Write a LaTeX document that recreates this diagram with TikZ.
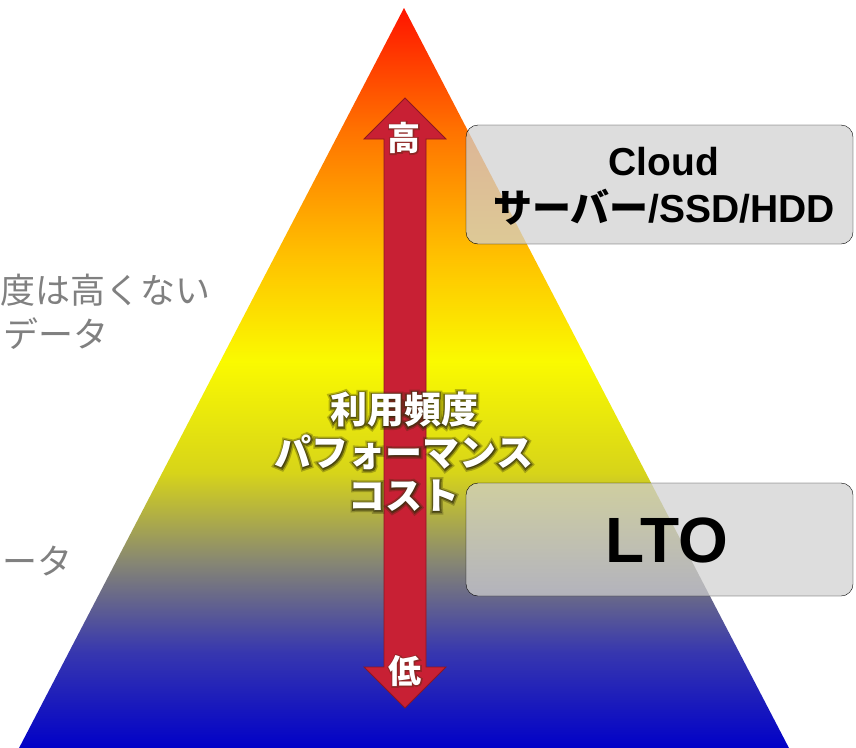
\documentclass[tikz,border=0pt]{standalone}
\usepackage{fontspec}
\newfontfamily\jpfont{Noto Sans CJK JP}
\newfontfamily\jpglow{Noto Sans CJK JP}[BoldFeatures={FakeBold=8}]
\newfontfamily\jpglowwide{Noto Sans CJK JP}[BoldFeatures={FakeBold=16}]
\newfontfamily\latinfont{Liberation Sans}
\usetikzlibrary{positioning}

\definecolor{pyrRed}{RGB}{255,20,0}
\definecolor{pyrOrange}{RGB}{255,115,0}
\definecolor{pyrAmber}{RGB}{255,190,0}
\definecolor{pyrYellow}{RGB}{250,250,0}
\definecolor{pyrOlive}{RGB}{215,212,25}
\definecolor{pyrSlate}{RGB}{135,135,115}
\definecolor{pyrIndigo}{RGB}{55,55,175}
\definecolor{pyrBlue}{RGB}{0,0,200}
\definecolor{arrowRed}{RGB}{200,32,52}
\definecolor{arrowEdge}{RGB}{140,22,34}
\definecolor{tierGray}{RGB}{208,208,208}
\definecolor{sideGray}{RGB}{128,128,128}
\definecolor{glowDark}{RGB}{50,45,10}

\pgfdeclareverticalshading{pyramid}{100bp}{color(0bp)=(pyrBlue); color(25bp)=(pyrBlue);
  color(31.6bp)=(pyrIndigo); color(37.7bp)=(pyrSlate); color(43.7bp)=(pyrOlive);
  color(51.2bp)=(pyrYellow); color(58.6bp)=(pyrAmber); color(66.7bp)=(pyrOrange);
  color(75bp)=(pyrRed); color(100bp)=(pyrRed)}

\tikzset{
  tier/.style={rounded corners=12pt, fill=tierGray, fill opacity=0.72},
  tiertext/.style={align=center, text=black, font=\latinfont\bfseries},
  midsize/.style={font=#1\bfseries\fontsize{37}{43}\selectfont},
  tipsize/.style={font=#1\bfseries\fontsize{33}{36}\selectfont},
  glow/.style={align=center, text=glowDark, text opacity=0.3},
  lbl/.style={align=center, text=white},
  side/.style={anchor=west, inner sep=0pt, text=sideGray, font=\jpfont\fontsize{35}{42}\selectfont},
}

\newcommand\midtext{利用頻度\\パフォーマンス\\コスト}

\begin{document}
\begin{tikzpicture}[x=1pt,y=-1pt]
\useasboundingbox (0,0) rectangle (856,747);
\clip (0,0) rectangle (856,747);

% Pyramid
\shade[shading=pyramid] (404,8) -- (790,750) -- (18,750) -- cycle;

% Storage tiers
\draw[tier] (466,125) rectangle (853,244);
\draw[tier] (466,483) rectangle (853,596);
\node[tiertext, font=\latinfont\bfseries\fontsize{39}{47}\selectfont] (cloud) at (664,186)
  {Cloud\\{\jpfont\bfseries サーバー}/SSD/HDD};
\node[tiertext, font=\latinfont\bfseries\fontsize{64}{70}\selectfont] (lto) at (667,540) {LTO};

% Double arrow
\draw[fill=arrowRed, draw=arrowEdge, line width=0.8pt, line join=miter]
  (405,98) -- (446,139) -- (426,139) -- (426,667) -- (446,667) -- (405,708)
  -- (364,667) -- (384,667) -- (384,139) -- (364,139) -- cycle;

% Arrow labels (dark halo under white text)
\node[glow, tipsize=\jpglow] at (404,138) {高};
\node[glow, tipsize=\jpglow] at (405,671) {低};
\node[glow, midsize=\jpglowwide] at (404,452) {\midtext};
\node[glow, text opacity=0.55, midsize=\jpglow] at (404,452) {\midtext};
\node[lbl, tipsize=\jpfont] (high) at (404,138) {高};
\node[lbl, tipsize=\jpfont] (low) at (405,671) {低};
\node[lbl, midsize=\jpfont] (axis) at (404,452) {\midtext};

% Side notes (cut off at the left)
\node[side] (note1) at (0,290) {度は高くない};
\node[side] (note2) at (3,334) {データ};
\node[side] (note3) at (2,561) {ータ};
\end{tikzpicture}
\end{document}
